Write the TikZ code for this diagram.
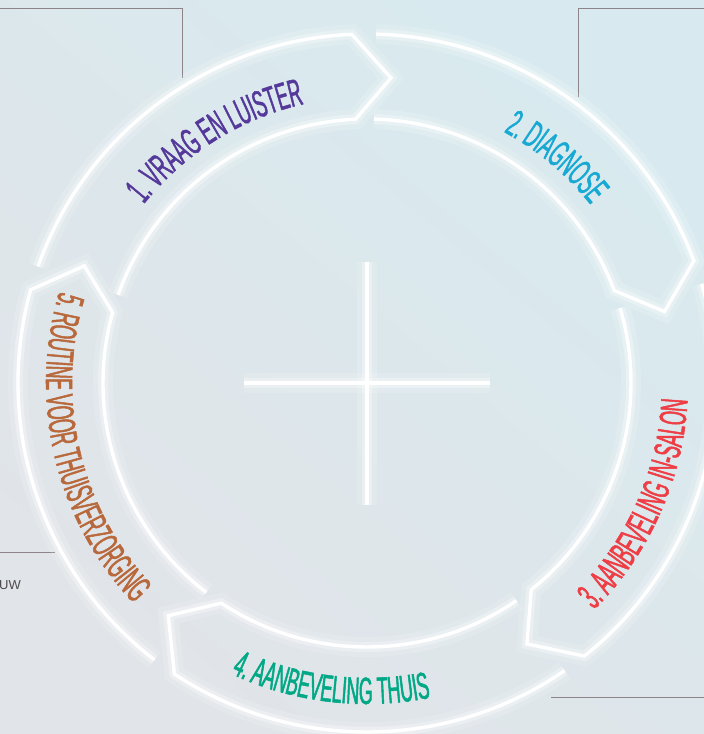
\documentclass[tikz,border=0pt]{standalone}
\usepackage{fontspec}
\setmainfont{Liberation Sans}
\newfontfamily\cyclefont[FakeStretch=0.47,FakeBold=1.3]{Liberation Sans}
\usepackage{tikz}
\usetikzlibrary{decorations.text}

\definecolor{stepone}{HTML}{55399A}
\definecolor{steptwo}{HTML}{17A9D3}
\definecolor{stepthree}{HTML}{EE3D45}
\definecolor{stepfour}{HTML}{00A886}
\definecolor{stepfive}{HTML}{B8683A}
\definecolor{bggrey}{HTML}{E1E4E8}
\definecolor{bgblue}{HTML}{D8EAEF}
\definecolor{framegrey}{HTML}{8C8488}

\begin{document}
\begin{tikzpicture}[
  band/.style={draw=white, line width=3.4pt, line join=miter,
    preaction={draw=white, line width=20pt, draw opacity=0.15},
    preaction={draw=white, line width=10pt, draw opacity=0.3}},
  frame/.style={draw=framegrey, line width=0.9pt},
  steptext/.style 2 args={decorate, decoration={text along path, text align=center,
    text={|\cyclefont\fontsize{38pt}{38pt}\selectfont\color{#1}|#2}}},
]
% background and page frame
\useasboundingbox (-367pt,-351pt) rectangle (337pt,383pt);
\clip (-367pt,-351pt) rectangle (337pt,383pt);
\fill[top color=bgblue, bottom color=bggrey, shading angle=-40] (-367pt,-351pt) rectangle (337pt,383pt);
\draw[frame] (-367pt,375pt) -- (-185pt,375pt) -- (-185pt,305pt);
\draw[frame] (211pt,286pt) -- (211pt,375pt) -- (337pt,375pt);
\draw[frame] (-367pt,-169pt) -- (-312pt,-169pt);
\draw[frame] (184pt,-314pt) -- (337pt,-314pt);
\node[anchor=east, font=\fontsize{13pt}{13pt}\selectfont, text=black!70, inner sep=0pt] (uw) at (-346pt,-202pt) {UW};

% centre cross
\draw[band, line width=4.5pt] (0pt,121pt) -- (0pt,-122pt);
\draw[band, line width=4.5pt] (-123pt,0pt) -- (123pt,0pt);

% the five steps
\draw[band] (160.5:349pt) arc[start angle=160.5, end angle=92.5, radius=349pt] -- (85.5:306pt) -- (92.5:264pt) arc[start angle=92.5, end angle=160.5, radius=264pt];
\draw[band] (88.5:349pt) arc[start angle=88.5, end angle=20.5, radius=349pt] -- (13.5:306pt) -- (20.5:264pt) arc[start angle=20.5, end angle=88.5, radius=264pt];
\draw[band] (16.5:349pt) arc[start angle=16.5, end angle=-51.5, radius=349pt] -- (-58.5:306pt) -- (-51.5:264pt) arc[start angle=-51.5, end angle=16.5, radius=264pt];
\draw[band] (-55.5:349pt) arc[start angle=-55.5, end angle=-123.5, radius=349pt] -- (-130.5:306pt) -- (-123.5:264pt) arc[start angle=-123.5, end angle=-55.5, radius=264pt];
\draw[band] (232.5:349pt) arc[start angle=232.5, end angle=164.5, radius=349pt] -- (157.5:306pt) -- (164.5:264pt) arc[start angle=164.5, end angle=232.5, radius=264pt];

% step labels
\path[steptext={stepone}{1. VRAAG EN LUISTER}] (152:286pt) arc[start angle=152, end angle=92, radius=286pt];
\path[steptext={steptwo}{2. DIAGNOSE}] (80:286pt) arc[start angle=80, end angle=20, radius=286pt];
\path[steptext={stepthree}{3. AANBEVELING IN-SALON}] (-64:321pt) arc[start angle=-64, end angle=16, radius=321pt];
\path[steptext={stepfour}{4. AANBEVELING THUIS}] (-140:321pt) arc[start angle=-140, end angle=-53.6, radius=321pt];
\path[steptext={stepfive}{5. ROUTINE VOOR THUISVERZORGING}] (145:321pt) arc[start angle=145, end angle=241.8, radius=321pt];
\end{tikzpicture}
\end{document}
